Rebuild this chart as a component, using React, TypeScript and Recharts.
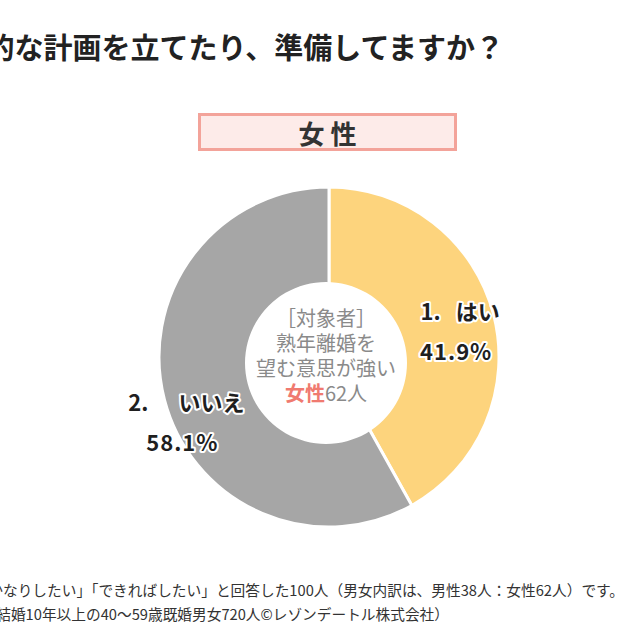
import { PieChart, Pie, Cell } from "recharts";

// Answers to the planning question (women, n=62), in percent
const CATEGORIES = ["はい", "いいえ"];
const SHARES = [41.9, 58.1];
const SLICE_COLORS = ["#FDD47D", "#A6A6A6"];

const TITLE = "具体的な計画を立てたり、準備してますか？";
const GROUP_LABEL = "女 性";
const CENTER_LINES = ["［対象者］", "熟年離婚を", "望む意思が強い"];
const CENTER_GROUP = "女性";
const CENTER_COUNT = "62人";
const NOTES = [
  "「いずれかなりしたい」「できればしたい」と回答した100人（男女内訳は、男性38人：女性62人）です。",
  "（調査対象：結婚10年以上の40～59歳既婚男女720人©レゾンデートル株式会社）",
];

const FONT = "'Noto Sans CJK JP', 'Noto Sans', sans-serif";
const RADIAN = Math.PI / 180;

const data = CATEGORIES.map((name, i) => ({ name, value: SHARES[i] }));

// label placement tweaks per slice: angle shift (deg), distance from center, gap after the number
const LABEL_PLACE = [
  { dAngle: -2.6, r: 130, gap: "   " },
  { dAngle: 9, r: 160, gap: "      " },
];

function SliceLabel(props: any) {
  const { cx, cy, midAngle, index, value, name } = props;
  const place = LABEL_PLACE[index];
  const a = (midAngle + place.dAngle) * RADIAN;
  const x = cx + place.r * Math.cos(a);
  const y = cy - place.r * Math.sin(a);
  const common = {
    textAnchor: "middle" as const,
    dominantBaseline: "central" as const,
    fill: "#1f1f1f",
    stroke: "#fff",
    strokeWidth: 4,
    strokeLinejoin: "round" as const,
    paintOrder: "stroke",
    fontFamily: FONT,
    fontWeight: 700,
    fontSize: 22,
    style: { whiteSpace: "pre" as const },
  };
  return (
    <g>
      <text x={x + 4} y={y - 20} {...common}>
        {`${index + 1}.${place.gap}${name}`}
      </text>
      <text x={x} y={y + 20} {...common} letterSpacing={1}>
        {`${Number(value).toFixed(1)}%`}
      </text>
    </g>
  );
}

export default function App() {
  return (
    <div
      style={{
        position: "absolute",
        left: 0,
        top: 0,
        width: 640,
        height: 640,
        overflow: "hidden",
        background: "#fff",
        fontFamily: FONT,
      }}
    >
      <div
        style={{
          position: "absolute",
          right: 136,
          top: 31,
          whiteSpace: "nowrap",
          fontSize: 29,
          lineHeight: "31px",
          fontWeight: 700,
          color: "#222",
        }}
      >
        {TITLE}
      </div>

      <div
        style={{
          position: "absolute",
          left: 198,
          top: 113,
          width: 259,
          height: 38,
          boxSizing: "border-box",
          border: "3px solid #F3A39A",
          background: "#FDEBE9",
          display: "flex",
          alignItems: "center",
          justifyContent: "center",
          fontSize: 26,
          fontWeight: 700,
          color: "#333",
          whiteSpace: "pre",
        }}
      >
        {GROUP_LABEL}
      </div>

      <div style={{ position: "absolute", left: 0, top: 0 }}>
        <PieChart width={640} height={640} margin={{ top: 0, right: 0, bottom: 0, left: 0 }}>
          <Pie
            data={data}
            dataKey="value"
            nameKey="name"
            cx={329}
            cy={357}
            innerRadius={40}
            outerRadius={170}
            startAngle={90}
            endAngle={-270}
            stroke="#fff"
            strokeWidth={3}
            labelLine={false}
            label={SliceLabel}
            isAnimationActive={false}
          >
            {data.map((d, i) => (
              <Cell key={d.name} fill={SLICE_COLORS[i]} />
            ))}
          </Pie>
          {/* white hole of the donut */}
          <Pie
            data={[{ name: "hole", value: 1 }]}
            dataKey="value"
            cx={326}
            cy={363}
            innerRadius={0}
            outerRadius={81}
            fill="#fff"
            stroke="none"
            isAnimationActive={false}
          />
        </PieChart>
      </div>

      <div
        style={{
          position: "absolute",
          left: 236,
          top: 305,
          width: 180,
          textAlign: "center",
          fontSize: 20,
          lineHeight: "25px",
          color: "#8a8a8a",
        }}
      >
        {CENTER_LINES.map((l) => (
          <div key={l}>{l}</div>
        ))}
        <div>
          <span style={{ color: "#F07A70", fontWeight: 700 }}>{CENTER_GROUP}</span>
          {CENTER_COUNT}
        </div>
      </div>

      <div
        style={{
          position: "absolute",
          right: 16,
          top: 581,
          whiteSpace: "nowrap",
          fontSize: 14.7,
          lineHeight: "18px",
          color: "#333",
        }}
      >
        {NOTES[0]}
      </div>
      <div
        style={{
          position: "absolute",
          right: 191,
          top: 605,
          whiteSpace: "nowrap",
          fontSize: 14.7,
          lineHeight: "18px",
          color: "#333",
        }}
      >
        {NOTES[1]}
      </div>
    </div>
  );
}
